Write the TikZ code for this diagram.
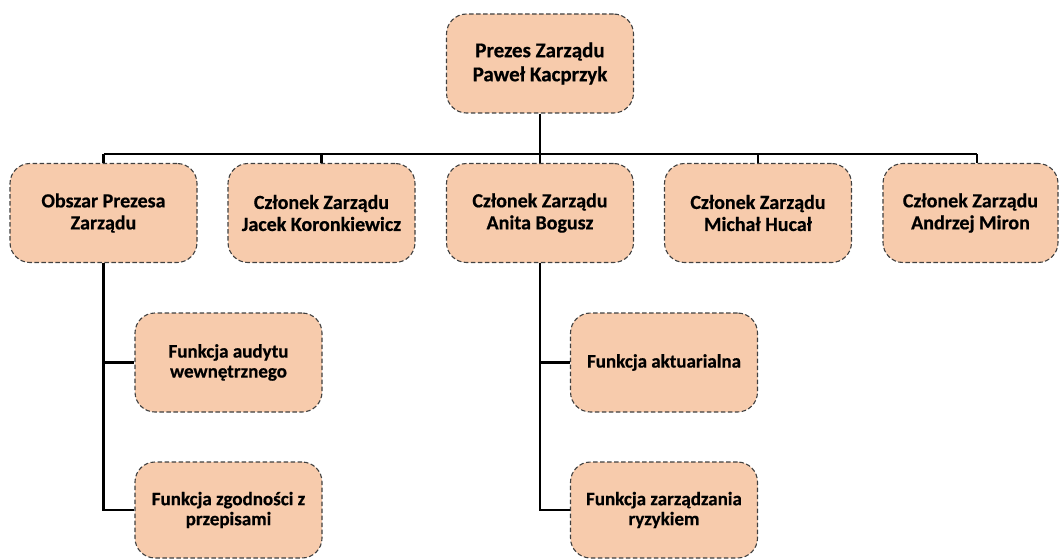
\documentclass[tikz,border=0pt]{standalone}
\usepackage{fontspec}
\setmainfont{Carlito}[BoldFeatures={FakeBold=0.6}]
\definecolor{boxfill}{HTML}{F7CBAC}
\definecolor{boxline}{HTML}{404040}
\begin{document}
\begin{tikzpicture}[x=1pt,y=-1pt,
  orgbox/.style={draw=boxline, fill=boxfill, rectangle, rounded corners=20pt,
    dash pattern=on 4.5pt off 2.5pt, line width=1.1pt,
    minimum width=187pt, minimum height=99pt, align=center,
    font=\bfseries\fontsize{20}{22}\selectfont, inner sep=2pt},
  topbox/.style={orgbox, font=\bfseries\fontsize{21}{24}\selectfont},
  childbox/.style={orgbox, font=\bfseries\fontsize{19}{20}\selectfont},
  conn/.style={line width=2.6pt, black}]
\useasboundingbox (0,0) rectangle (1060,559);
\node[topbox] (top) at (540,63.5) {Prezes Zarządu\\Paweł Kacprzyk};
\node[orgbox] (b1) at (103.5,213) {Obszar Prezesa\\Zarządu};
\node[orgbox] (b2) at (321.5,213) {Członek Zarządu\\Jacek Koronkiewicz};
\node[orgbox] (b3) at (540,213) {Członek Zarządu\\Anita Bogusz};
\node[orgbox] (b4) at (758,213) {Członek Zarządu\\Michał Hucał};
\node[orgbox, minimum width=175pt] (b5) at (970.5,213) {Członek Zarządu\\Andrzej Miron};
\node[childbox] (c1) at (228.5,362.5) {Funkcja audytu\\wewnętrznego};
\node[childbox, minimum height=96pt] (c2) at (228.5,510) {Funkcja zgodności z\\przepisami};
\node[childbox] (c3) at (664,362.5) {Funkcja aktuarialna};
\node[childbox, minimum height=96pt] (c4) at (664,510) {Funkcja zarządzania\\ryzykiem};
\coordinate (bus) at (540,154);
\coordinate (busL) at (103.5,154);
\coordinate (busR) at (977,154);
\draw[conn] (top.south) -- (bus);
\draw[conn] (busL) -- (busR);
\draw[conn] (busL) -- (b1.north);
\draw[conn] (b2.north |- bus) -- (b2.north);
\draw[conn] (b3.north |- bus) -- (b3.north);
\draw[conn] (b4.north |- bus) -- (b4.north);
\draw[conn] (busR) -- (busR |- b5.north);
\draw[conn] (b1.south) -- (b1.south |- c2.west) -- (c2.west);
\draw[conn] (b1.south |- c1.west) -- (c1.west);
\draw[conn] (b3.south) -- (b3.south |- c4.west) -- (c4.west);
\draw[conn] (b3.south |- c3.west) -- (c3.west);
\end{tikzpicture}
\end{document}
